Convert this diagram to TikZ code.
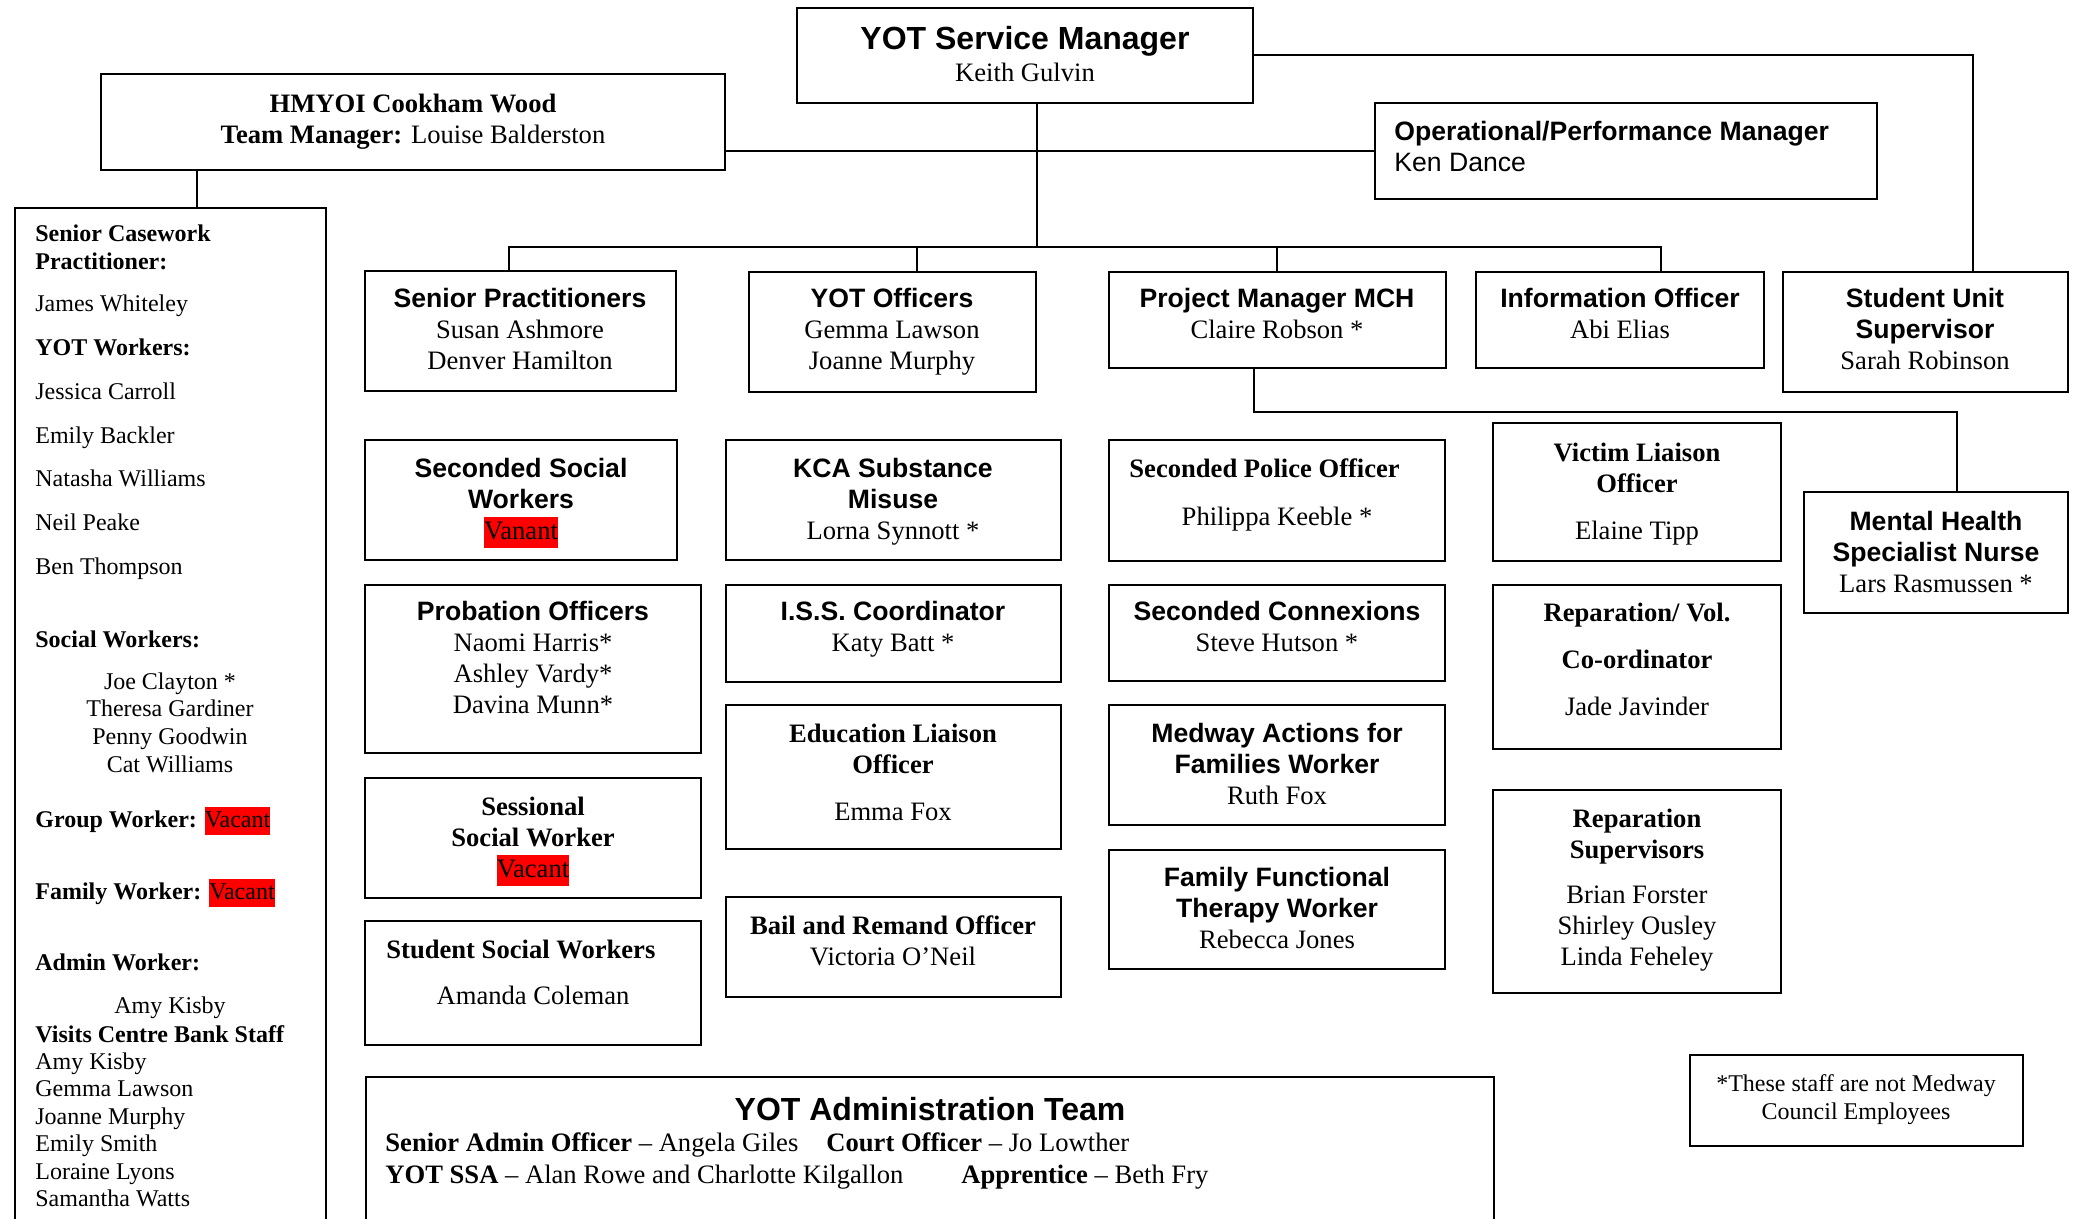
\documentclass[tikz,border=0pt]{standalone}
\usepackage{fontspec}
\setmainfont{Liberation Serif}
\newfontfamily\arial{Liberation Sans}
\usetikzlibrary{fit}
\newcommand\cb[1]{\begin{tabular}[t]{@{}c@{}}#1\end{tabular}}
\newcommand\lb[1]{\begin{tabular}[t]{@{}l@{}}#1\end{tabular}}
\newcommand\vac[1]{{\setlength{\fboxsep}{0pt}\colorbox{red}{\strut #1}}}
\newcommand\ab{\arial\bfseries}
\begin{document}
\begin{tikzpicture}[x=0.5pt,y=-0.5pt,
  box/.style={draw, line width=1.2pt, inner sep=0pt},
  txt/.style={inner sep=0pt, anchor=base, yshift=-1pt, font=\fontsize{13.3}{15.5}\selectfont},
  ltxt/.style={txt, anchor=base west},
  big/.style={inner sep=0pt, anchor=base, yshift=-1pt, font=\fontsize{16}{18}\selectfont},
  lf/.style={inner sep=0pt, anchor=base west, yshift=-1pt, font=\fontsize{12}{14}\selectfont},
  con/.style={line width=1pt}]
\useasboundingbox (0,0) rectangle (2076,1219);
\clip (0,0) rectangle (2076,1219);
% boxes
\node[box, fit={(797,8) (1253,103)}] (mgr) {};
\node[box, fit={(101,74) (725,170)}] (hm) {};
\node[box, fit={(1375,103) (1877,199)}] (opm) {};
\node[box, fit={(15,208) (326,1250)}] (lft) {};
\node[box, fit={(365,271) (676,391)}] (sp) {};
\node[box, fit={(749,272) (1036,392)}] (yo) {};
\node[box, fit={(1109,272) (1446,368)}] (pm) {};
\node[box, fit={(1476,272) (1764,368)}] (io) {};
\node[box, fit={(1783,272) (2068,392)}] (su) {};
\node[box, fit={(365,440) (677,560)}] (ssw) {};
\node[box, fit={(726,440) (1061,560)}] (kca) {};
\node[box, fit={(1109,440) (1445,561)}] (po) {};
\node[box, fit={(1493,423) (1781,561)}] (vl) {};
\node[box, fit={(1804,492) (2068,613)}] (mh) {};
\node[box, fit={(365,585) (701,753)}] (prob) {};
\node[box, fit={(726,585) (1061,682)}] (iss) {};
\node[box, fit={(1109,585) (1445,681)}] (conx) {};
\node[box, fit={(1493,585) (1781,749)}] (rep) {};
\node[box, fit={(726,705) (1061,849)}] (edu) {};
\node[box, fit={(1109,705) (1445,825)}] (med) {};
\node[box, fit={(365,778) (701,898)}] (sess) {};
\node[box, fit={(1493,790) (1781,993)}] (repsup) {};
\node[box, fit={(726,897) (1061,997)}] (bail) {};
\node[box, fit={(1109,850) (1445,969)}] (ffw) {};
\node[box, fit={(365,921) (701,1045)}] (ssw2) {};
\node[box, fit={(366,1077) (1494,1250)}] (adm) {};
\node[box, fit={(1690,1055) (2023,1146)}] (note) {};
% connectors
\coordinate (busL) at (509,247);
\coordinate (busM) at (1037,247);
\coordinate (busY) at (917,247);
\coordinate (busP) at (1277,247);
\coordinate (busR) at (1661,247);
\coordinate (suc) at (1973,55);
\coordinate (pmc) at (1254,412);
\coordinate (mhc) at (1957,412);
\coordinate (hmc) at (197,190);
\draw[con] (busM |- mgr.south) -- (busM);
\draw[con] (busL |- sp.north) -- (busL) -- (busR) -- (busR |- io.north);
\draw[con] (busY) -- (busY |- yo.north);
\draw[con] (busP) -- (busP |- pm.north);
\draw[con] (opm.west) -- (opm.west -| hm.east);
\draw[con] (mgr.east |- suc) -- (suc) -- (suc |- su.north);
\draw[con] (pmc |- pm.south) -- (pmc) -- (mhc) -- (mhc |- mh.north);
\draw[con] (hmc |- hm.south) -- (hmc |- lft.north);
% texts
\node[big] (mgrT) at (1025,48) {\ab YOT Service Manager};
\node[txt] (mgrN) at (1025,80) {Keith Gulvin};
\node[txt] (hmT) at (413,111) {\cb{\bfseries HMYOI Cookham Wood\\ \textbf{Team Manager:} Louise Balderston}};
\node[ltxt] (opmT) at (1394,139) {\lb{\ab Operational/Performance Manager\\ \arial Ken Dance}};
\node[txt] (spT) at (520,306) {\cb{\ab Senior Practitioners\\ Susan Ashmore\\ Denver Hamilton}};
\node[txt] (yoT) at (892,306) {\cb{\ab YOT Officers\\ Gemma Lawson\\ Joanne Murphy}};
\node[txt] (pmT) at (1277,306) {\cb{\ab Project Manager MCH\\ Claire Robson *}};
\node[txt] (ioT) at (1620,306) {\cb{\ab Information Officer\\ Abi Elias}};
\node[txt] (suT) at (1925,306) {\cb{\ab Student Unit\\ \ab Supervisor\\ Sarah Robinson}};
\node[txt] (sswT) at (521,475) {\cb{\ab Seconded Social\\ \ab Workers\\ \vac{Vanant}}};
\node[txt] (kcaT) at (893,475) {\cb{\ab KCA Substance\\ \ab Misuse\\ Lorna Synnott *}};
\node[ltxt] (poT) at (1129,475) {\bfseries Seconded Police Officer};
\node[txt] (poN) at (1277,523) {Philippa Keeble *};
\node[txt] (vlT) at (1637,459) {\cb{\bfseries Victim Liaison\\ \bfseries Officer\\[8pt] Elaine Tipp}};
\node[txt] (mhT) at (1936,528) {\cb{\ab Mental Health\\ \ab Specialist Nurse\\ Lars Rasmussen *}};
\node[txt] (probT) at (533,618) {\cb{\ab Probation Officers\\ Naomi Harris*\\ Ashley Vardy*\\ Davina Munn*}};
\node[txt] (issT) at (893,618) {\cb{\ab I.S.S. Coordinator\\ Katy Batt *}};
\node[txt] (conxT) at (1277,618) {\cb{\ab Seconded Connexions\\ Steve Hutson *}};
\node[txt] (repT) at (1637,619) {\cb{\bfseries Reparation/ Vol.\\[8pt] \bfseries Co-ordinator\\[8pt] Jade Javinder}};
\node[txt] (eduT) at (893,740) {\cb{\bfseries Education Liaison\\ \bfseries Officer\\[8pt] Emma Fox}};
\node[txt] (medT) at (1277,740) {\cb{\ab Medway Actions for\\ \ab Families Worker\\ Ruth Fox}};
\node[txt] (sessT) at (533,813) {\cb{\bfseries Sessional\\ \bfseries Social Worker\\ \vac{Vacant}}};
\node[txt] (repsupT) at (1637,825) {\cb{\bfseries Reparation\\ \bfseries Supervisors\\[7pt] Brian Forster\\ Shirley Ousley\\ Linda Feheley}};
\node[txt] (ffwT) at (1277,884) {\cb{\ab Family Functional\\ \ab Therapy Worker\\ Rebecca Jones}};
\node[txt] (bailT) at (893,932) {\cb{\bfseries Bail and Remand Officer\\ Victoria O’Neil}};
\node[ltxt] (ssw2T) at (386,956) {\bfseries Student Social Workers};
\node[txt] (ssw2N) at (533,1002) {Amanda Coleman};
\node[big] (admT) at (930,1118) {\ab YOT Administration Team};
\node[ltxt] (adm1) at (385,1149) {\textbf{Senior Admin Officer} – Angela Giles};
\node[ltxt] (adm2) at (826,1149) {\textbf{Court Officer} – Jo Lowther};
\node[ltxt] (adm3) at (385,1181) {\textbf{YOT SSA} – Alan Rowe and Charlotte Kilgallon};
\node[ltxt] (adm4) at (961,1181) {\textbf{Apprentice} – Beth Fry};
\node[txt, font=\fontsize{12}{14}\selectfont] (noteT) at (1856,1089) {\cb{*These staff are not Medway\\ Council Employees}};
% left column
\node[lf] (l1) at (35,240) {\lb{\bfseries Senior Casework\\ \bfseries Practitioner:}};
\node[lf, font=\fontsize{12}{21.85}\selectfont] (l2) at (35,310) {\lb{James Whiteley\\ \bfseries YOT Workers:\\ Jessica Carroll\\ Emily Backler\\ Natasha Williams\\ Neil Peake\\ Ben Thompson}};
\node[lf] (l3) at (35,645) {\bfseries Social Workers:};
\node[lf, anchor=base, font=\fontsize{12}{13.85}\selectfont] (l4) at (170,687) {\cb{Joe Clayton *\\ Theresa Gardiner\\ Penny Goodwin\\ Cat Williams}};
\node[lf] (l5) at (35,825) {\textbf{Group Worker:} \vac{Vacant}};
\node[lf] (l6) at (35,897) {\textbf{Family Worker:} \vac{Vacant}};
\node[lf] (l7) at (35,968) {\bfseries Admin Worker:};
\node[lf, anchor=base] (l8) at (170,1011) {Amy Kisby};
\node[lf, font=\fontsize{12}{13.7}\selectfont] (l9) at (35,1040) {\lb{\bfseries Visits Centre Bank Staff\\ Amy Kisby\\ Gemma Lawson\\ Joanne Murphy\\ Emily Smith\\ Loraine Lyons\\ Samantha Watts}};
\end{tikzpicture}
\end{document}
